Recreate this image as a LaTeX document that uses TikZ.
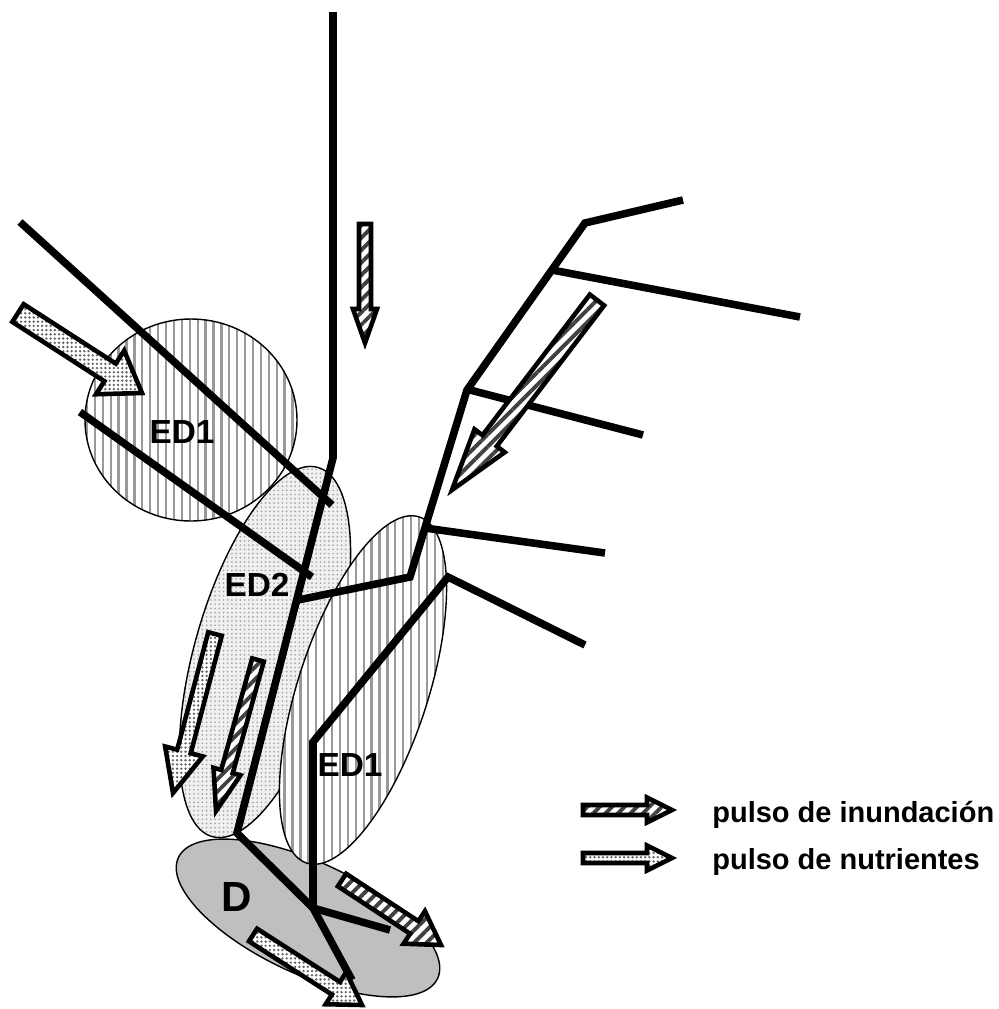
\documentclass[tikz,border=0pt]{standalone}
\usepackage{fontspec}
\setmainfont{Liberation Sans}
\usepackage{tikz}
\usetikzlibrary{calc, patterns.meta}

% flecha de bloque: estilo, cola, punta, media anchura, media cabeza, largo cabeza
\newcommand{\pulso}[6]{%
  \coordinate (base) at ($(#3)!#6!(#2)$);
  \draw[#1] ($(#2)!#4!90:(#3)$) -- ($(base)!#4!90:(#3)$) -- ($(base)!#5!90:(#3)$)
    -- (#3) -- ($(base)!#5!-90:(#3)$) -- ($(base)!#4!-90:(#3)$)
    -- ($(#2)!#4!-90:(#3)$) -- cycle;
}

\begin{document}
\begin{tikzpicture}[
    x=0.02cm, y=-0.02cm,
    rio/.style={line width=4.3pt},
    edi/.style={draw, line width=0.8pt, preaction={fill=white},
                pattern={Lines[angle=90, distance=4.5pt, line width=1.3pt]}, pattern color=black!40},
    edii/.style={draw, line width=0.8pt, preaction={fill=black!6},
                pattern={Dots[radius=0.55pt, distance=2.4pt]}, pattern color=black!35},
    delta/.style={draw, line width=0.8pt, fill=black!25},
    inund/.style={line width=2.6pt, preaction={fill=white},
                pattern={Lines[angle=45, distance=5pt, line width=2.2pt]}, pattern color=black!75},
    nutri/.style={line width=2.6pt, preaction={fill=white},
                pattern={Dots[radius=0.75pt, distance=2.4pt]}, pattern color=black!60},
    lbl/.style={font=\fontsize{19}{22}\selectfont\bfseries, inner sep=0pt},
    ley/.style={font=\fontsize{16.5}{19}\selectfont\bfseries, anchor=west, inner sep=0pt},
  ]
    \useasboundingbox (0,0) rectangle (999,1009);

    % zonas
    \draw[delta] (308,918) ellipse [x radius=143, y radius=56, rotate=-25];
    \draw[edi] (191,420) ellipse [x radius=106, y radius=101];
    \draw[edii, rotate around={74:(265,652)}] (265,652) ellipse [x radius=192, y radius=70];
    \draw[edi, rotate around={72:(363,690)}] (363,690) ellipse [x radius=182, y radius=65];

    % cauce principal
    \coordinate (fuente) at (333,12);
    \coordinate (codo) at (333,458);
    \coordinate (st) at (237,833);
    \coordinate (J) at (313,908);
    \coordinate (boca) at (352,980);
    \coordinate (bD) at (390,930);
    \coordinate (r1) at (313,742);
    \coordinate (r2) at (448,577);
    \coordinate (r3) at (585,645);

    % tributario derecho
    \coordinate (t0) at (298,600);
    \coordinate (t1) at (410,577);
    \coordinate (t2) at (467,390);
    \coordinate (t3) at (585,223);
    \coordinate (t4) at (683,200);
    \coordinate (b1a) at (552,270);
    \coordinate (b1b) at (800,317);
    \coordinate (b2a) at (470,390);
    \coordinate (b2b) at (643,435);
    \coordinate (b3a) at (425,528);
    \coordinate (b3b) at (605,553);

    % tributarios izquierdos
    \coordinate (l1a) at (20,222);
    \coordinate (l1b) at (332,505);
    \coordinate (l2a) at (80,412);
    \coordinate (l2b) at (312,577);

    \draw[rio] (fuente) -- (codo) -- (st) -- (J) -- (boca);
    \draw[rio] (J) -- (bD);
    \draw[rio] (J) -- (r1) -- (r2) -- (r3);
    \draw[rio] (t0) -- (t1) -- (t2) -- (t3) -- (t4);
    \draw[rio] (b1a) -- (b1b);
    \draw[rio] (b2a) -- (b2b);
    \draw[rio] (b3a) -- (b3b);
    \draw[rio] (l1a) -- (l1b);
    \draw[rio] (l2a) -- (l2b);

    % pulsos
    \coordinate (a1c) at (18,313);   \coordinate (a1p) at (142,393);
    \coordinate (a2c) at (365,224);  \coordinate (a2p) at (365,343);
    \coordinate (a3c) at (597,300);  \coordinate (a3p) at (452,490);
    \coordinate (a4c) at (215,634);  \coordinate (a4p) at (173,793);
    \coordinate (a5c) at (258,660);  \coordinate (a5p) at (216,811);
    \coordinate (a6c) at (342,880);  \coordinate (a6p) at (441,945);
    \coordinate (a7c) at (253,935);  \coordinate (a7p) at (362,1005);

    \pulso{nutri}{a1c}{a1p}{0.21cm}{0.52cm}{0.76cm}
    \pulso{inund}{a2c}{a2p}{0.12cm}{0.24cm}{0.68cm}
    \pulso{inund}{a3c}{a3p}{0.18cm}{0.38cm}{1.24cm}
    \pulso{nutri}{a4c}{a4p}{0.14cm}{0.39cm}{0.86cm}
    \pulso{inund}{a5c}{a5p}{0.12cm}{0.28cm}{0.82cm}
    \pulso{inund}{a6c}{a6p}{0.15cm}{0.39cm}{0.64cm}
    \pulso{nutri}{a7c}{a7p}{0.15cm}{0.38cm}{0.62cm}

    % etiquetas
    \node[lbl] (ED1a) at (182,432) {ED1};
    \node[lbl] (ED2) at (257,585) {ED2};
    \node[lbl] (ED1b) at (350,765) {ED1};
    \node[lbl, font=\fontsize{24}{28}\selectfont\bfseries] (D) at (237,897) {D};

    % leyenda
    \coordinate (la1c) at (583,810);  \coordinate (la1p) at (672,810);
    \coordinate (la2c) at (583,858);  \coordinate (la2p) at (672,858);
    \pulso{inund}{la1c}{la1p}{0.10cm}{0.25cm}{0.5cm}
    \pulso{nutri}{la2c}{la2p}{0.10cm}{0.25cm}{0.5cm}
    \node[ley] (INUND) at (712,815) {pulso de inundación};
    \node[ley] (NUTRI) at (712,862) {pulso de nutrientes};
\end{tikzpicture}
\end{document}
